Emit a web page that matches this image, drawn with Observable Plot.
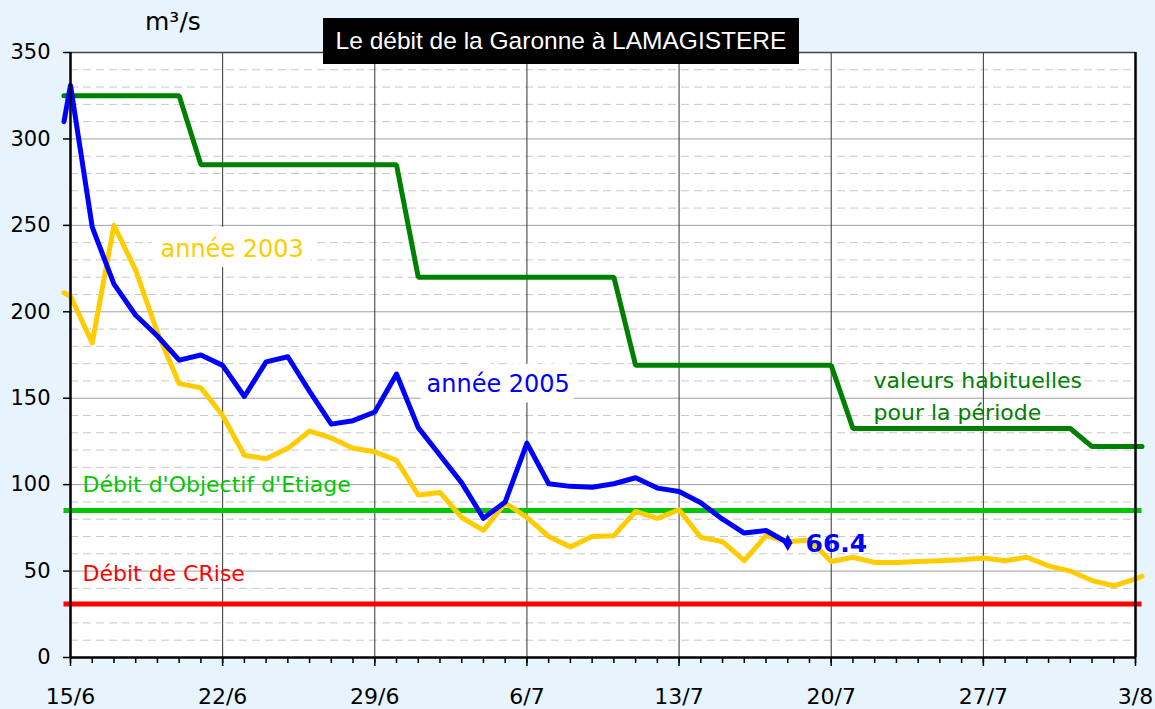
<!DOCTYPE html>
<html>
<head>
<meta charset="utf-8">
<script src="https://cdn.jsdelivr.net/npm/d3@7"></script>
<script src="https://cdn.jsdelivr.net/npm/@observablehq/plot@0.6"></script>
<style>
  html, body { margin: 0; padding: 0; background: #e8f4fd; overflow: hidden; }
  #wrap { position: relative; width: 1155px; height: 709px; }
  #wrap svg { position: absolute; left: 0; top: 0; }
  #title {
    position: absolute; left: 323px; top: 18px; width: 476px; height: 46px;
    background: #000; color: #fff; text-align: center;
    font-family: "Liberation Sans", Arial, sans-serif; font-size: 24.5px; line-height: 46px;
    white-space: nowrap;
  }
  #unit {
    position: absolute; left: 145px; top: 9px;
    font-family: "DejaVu Sans", sans-serif; font-size: 25px; line-height: 25px; color: #000;
  }
</style>
</head>
<body>
<div id="wrap">
  <div id="unit">m³/s</div>
  <div id="title">Le débit de la Garonne à LAMAGISTERE</div>
</div>
<script>
// ---- Data (days counted from 15/6) ----
const weekLabels = ["15/6", "22/6", "29/6", "6/7", "13/7", "20/7", "27/7", "3/8"];
const weekDays = [0, 7, 14, 21, 28, 35, 42, 49];
const yTicks = [0, 50, 100, 150, 200, 250, 300, 350];

// Débit 2005 (daily from 15/6 to 18/7), m³/s
const debit2005 = [331, 249, 216, 198, 186, 172, 175, 169, 151, 171,
                   174, 154, 135, 137, 142, 164, 133, 117, 101, 80.5,
                   90, 124, 100.5, 99, 98.5, 100.5, 104, 98, 96, 89.5,
                   80, 72, 73.5, 66.4];
// Débit 2003 (daily from 15/6 to 3/8), m³/s
const debit2003 = [209, 182, 250, 224, 188, 158.5, 156, 140, 117, 115,
                   121, 131, 127, 121, 119, 114, 94, 95.5, 81, 73.5,
                   89.5, 81, 70, 64, 70, 70.5, 84.5, 80.5, 85.5, 69.5,
                   67, 56, 70.5, 67, 68, 55.5, 58, 55, 55, 55.5,
                   56, 56.5, 57.5, 56, 58, 53, 50, 44.5, 41.5, 45.5];
// lead-in / trailing stubs drawn just outside the axis in the original
const leadDay = -0.3, trailDay = 49.3;
const lead2005 = 310, lead2003 = 211, trail2003 = 47;

// Valeurs habituelles (step profile vertices)
const habitDays   = [-0.3, 5, 6, 15, 16, 25, 26, 35, 36, 46, 47, 49.3];
const habitValues = [325, 325, 285, 285, 220, 220, 169, 169, 132.5, 132.5, 122, 122];

// Seuils
const doe = 85;   // Débit d'Objectif d'Etiage
const dcr = 31;   // Débit de CRise

// Annotations (data coordinates)
const annotations = [
  {text: "année 2003", day: 4.14, value: 236, kind: "y2003"},
  {text: "année 2005", day: 16.38, value: 158.3, kind: "y2005"},
  {text: "Débit d'Objectif d'Etiage", day: 0.55, value: 99.8, kind: "doe"},
  {text: "Débit de CRise", day: 0.55, value: 48.6, kind: "dcr"},
  {text: "valeurs habituelles", day: 36.95, value: 160, kind: "hab"},
  {text: "pour la période", day: 36.95, value: 141.7, kind: "hab"}
];
const lastLabel = {text: "66.4", day: 33.82, value: 65.4};

// ---- Build tables ----
const s2005 = [{day: leadDay, v: lead2005}, ...debit2005.map((v, i) => ({day: i, v}))];
const s2003 = [{day: leadDay, v: lead2003}, ...debit2003.map((v, i) => ({day: i, v})), {day: trailDay, v: trail2003}];
const habit = habitDays.map((d, i) => ({day: d, v: habitValues[i]}));
const last2005 = [{day: debit2005.length - 1, v: debit2005[debit2005.length - 1]}];

const colors = {y2003: "#ffcc00", y2005: "#0000ff", doe: "#00c800", dcr: "#ff0000", hab: "#008000"};
const minor = d3.range(10, 350, 10).filter(v => v % 50 !== 0);
const major = [50, 100, 150, 200, 250, 300];

const boxed = annotations.filter(a => a.kind === "y2003" || a.kind === "y2005");
const plain = annotations.filter(a => !(a.kind === "y2003" || a.kind === "y2005"));

const chart = Plot.plot({
  width: 1155,
  height: 709,
  marginLeft: 70,
  marginRight: 20,
  marginTop: 52,
  marginBottom: 52,
  style: {background: "transparent", fontFamily: "DejaVu Sans, sans-serif", color: "#000"},
  x: {domain: [0, 49], axis: null},
  y: {domain: [0, 350], axis: null},
  marks: [
    Plot.frame({fill: "white", stroke: null}),
    Plot.ruleY(minor, {stroke: "#c8c8c8", strokeWidth: 1, strokeDasharray: "8,5"}),
    Plot.ruleY(major, {stroke: "#a0a0a0", strokeWidth: 1}),
    Plot.ruleX(weekDays.slice(1, -1), {stroke: "#333", strokeWidth: 1}),
    // labels with white box
    Plot.text(boxed, {x: "day", y: "value", text: "text", textAnchor: "start", lineAnchor: "middle",
      fontSize: 24, fill: d => colors[d.kind], stroke: "white", strokeWidth: 22, strokeLinejoin: "round", paintOrder: "stroke"}),
    Plot.text(plain, {x: "day", y: "value", text: "text", textAnchor: "start", lineAnchor: "middle",
      fontSize: 22, fill: d => colors[d.kind]}),
    // thresholds
    Plot.ruleY([doe], {x1: leadDay, x2: trailDay, stroke: colors.doe, strokeWidth: 5}),
    Plot.ruleY([dcr], {x1: leadDay, x2: trailDay, stroke: colors.dcr, strokeWidth: 5}),
    // series
    Plot.line(s2003, {x: "day", y: "v", stroke: colors.y2003, strokeWidth: 5}),
    Plot.line(habit, {x: "day", y: "v", stroke: colors.hab, strokeWidth: 5, strokeLinejoin: "miter"}),
    Plot.line(s2005, {x: "day", y: "v", stroke: colors.y2005, strokeWidth: 5}),
    Plot.dot(last2005, {x: "day", y: "v", symbol: "diamond", r: 5, fill: colors.y2005, stroke: null}),
    Plot.text([lastLabel], {x: "day", y: "value", text: "text", textAnchor: "start", lineAnchor: "middle",
      fontSize: 25, fontWeight: "bold", fill: colors.y2005}),
    // borders
    Plot.ruleY([350], {stroke: "#444", strokeWidth: 1.5}),
    Plot.ruleX([49], {stroke: "#000", strokeWidth: 2.5}),
    Plot.ruleX([0], {stroke: "#000", strokeWidth: 2.5}),
    Plot.ruleY([0], {stroke: "#000", strokeWidth: 2.5}),
    // axes
    Plot.axisY(yTicks, {label: null, tickSize: 7, tickPadding: 13, fontSize: 21, tickFormat: d => String(d), strokeWidth: 1.5}),
    Plot.axisX(d3.range(0, 50), {label: null, tickSize: 6, tickFormat: () => "", strokeWidth: 1.5}),
    Plot.axisX(weekDays, {label: null, tickSize: 9, tickPadding: 22, fontSize: 22, tickFormat: d => weekLabels[weekDays.indexOf(d)], strokeWidth: 1.5})
  ]
});
document.getElementById("wrap").prepend(chart);
</script>
</body>
</html>
